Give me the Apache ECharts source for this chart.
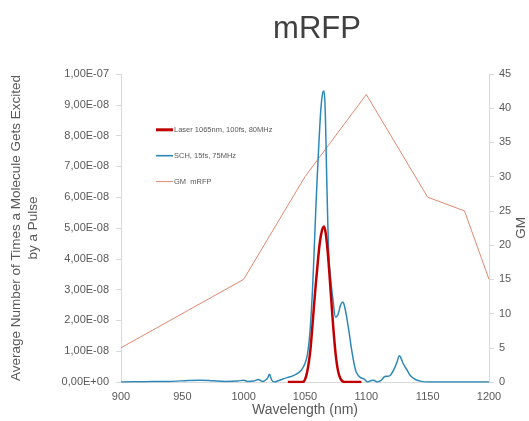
<!DOCTYPE html>
<html>
<head>
<meta charset="utf-8">
<script src="https://cdn.jsdelivr.net/npm/echarts@6/dist/echarts.min.js"></script>
<style>
html,body{margin:0;padding:0;background:#fff;}
#chart{width:529px;height:421px;}
</style>
</head>
<body>
<div id="chart"></div>
<script>
// Laser 1065nm, 100fs, 80MHz (values in units of 1e-8)
const laserWl = [1036, 1048, 1051, 1054, 1056, 1058, 1060, 1062, 1064, 1065.5, 1067, 1069, 1071, 1073, 1075, 1077, 1079, 1082, 1096];
const laserVal = [0, 0, 0.2, 0.9, 1.8, 2.8, 3.7, 4.5, 4.95, 5.05, 4.8, 4.0, 2.9, 1.8, 0.9, 0.35, 0.1, 0, 0];

// SCH, 15fs, 75MHz (values in units of 1e-8)
const schWl = [900, 920, 940, 955, 965, 975, 985, 995, 1000, 1003, 1008, 1012, 1015, 1019, 1021, 1023, 1025, 1028, 1032, 1036, 1040, 1044, 1047, 1050, 1052, 1054, 1056, 1057.5, 1059, 1061, 1063, 1064.5, 1065.5, 1066.5, 1067.5, 1068.5, 1069.5, 1071, 1073, 1075, 1077, 1079, 1080.7, 1082, 1084, 1086, 1088, 1090, 1092, 1095, 1098, 1101, 1104, 1106, 1109, 1112, 1115, 1119, 1121, 1123, 1125, 1127, 1128, 1130, 1133, 1136, 1140, 1145, 1150, 1200];
const schVal = [0, 0.01, 0.02, 0.05, 0.06, 0.04, 0.02, 0.03, 0.06, 0.02, 0.03, 0.08, 0.02, 0.1, 0.25, 0.05, 0, 0.04, 0.1, 0.15, 0.2, 0.28, 0.38, 0.6, 0.9, 1.6, 2.9, 4.3, 5.8, 7.5, 8.9, 9.4, 9.45, 8.8, 7.0, 5.3, 4.0, 3.3, 2.6, 2.1, 2.2, 2.5, 2.6, 2.5, 2.1, 1.6, 1.05, 0.6, 0.3, 0.15, 0.1, 0, 0.05, 0.06, 0, 0.05, 0.18, 0.2, 0.3, 0.45, 0.65, 0.85, 0.8, 0.6, 0.4, 0.2, 0.08, 0.02, 0, 0];

// GM mRFP (right axis)
const gmWl = [900, 1000, 1050, 1100, 1150, 1180, 1200];
const gmVal = [5, 15, 30, 42, 27, 25, 15];

const leftTicksScale = 1e-8;

function pairs(xs, ys, scale) {
  return xs.map((x, i) => [x, ys[i] * scale]);
}

function sciLabel(v) {
  if (v === 0) return '0,00E+00';
  let s = v.toExponential(2);
  let [m, e] = s.split('e');
  let sign = e[0] === '-' ? '-' : '+';
  let digits = e.replace(/[+-]/, '');
  if (digits.length < 2) digits = '0' + digits;
  return m.replace('.', ',') + 'E' + sign + digits;
}

const textColor = '#595959';
const axisColor = '#d9d9d9';
const fontFam = 'Liberation Sans, Arial, sans-serif';

const chart = echarts.init(document.getElementById('chart'), null, {renderer: 'canvas'});
chart.setOption({
  animation: false,
  backgroundColor: '#fff',
  title: {
    text: 'mRFP',
    left: 312,
    top: 9,
    textAlign: 'center',
    textStyle: {fontSize: 31, fontWeight: 'normal', color: '#404040', fontFamily: fontFam}
  },
  legend: {
    orient: 'vertical',
    left: 151,
    top: 120.8,
    itemGap: 17.9,
    itemWidth: 17,
    itemHeight: 3,
    textStyle: {fontSize: 7.5, color: textColor, fontFamily: fontFam, padding: [0, 0, 0, -4]},
    data: [
      {name: 'Laser 1065nm, 100fs, 80MHz', icon: 'path://M0,0H17V3H0Z'},
      {name: 'SCH, 15fs, 75MHz', icon: 'path://M0,0H17V1.6H0Z'},
      {name: 'GM  mRFP', icon: 'path://M0,0H17V1H0Z'}
    ]
  },
  grid: {left: 121, right: 40, top: 74, bottom: 39, containLabel: false, outerBoundsMode: 'none'},
  xAxis: {
    type: 'value',
    min: 900, max: 1200, interval: 50,
    name: 'Wavelength (nm)',
    nameLocation: 'middle',
    nameGap: 21,
    nameMoveOverlap: false,
    nameTextStyle: {fontSize: 14, color: textColor, fontFamily: fontFam},
    axisLine: {show: true, lineStyle: {color: axisColor}},
    axisTick: {show: false},
    splitLine: {show: false},
    axisLabel: {color: textColor, fontSize: 11, margin: 9, fontFamily: fontFam, formatter: v => String(v)}
  },
  yAxis: [{
    type: 'value',
    min: 0, max: 10 * leftTicksScale, interval: leftTicksScale,
    name: 'Average Number of Times a Molecule Gets Excited\nby a Pulse',
    nameLocation: 'middle',
    nameGap: 79,
    nameRotate: 90,
    nameMoveOverlap: false,
    nameTextStyle: {fontSize: 13.5, color: textColor, fontFamily: fontFam, lineHeight: 17},
    axisLine: {show: true, lineStyle: {color: axisColor}},
    axisTick: {show: true, length: 5, lineStyle: {color: axisColor}},
    splitLine: {show: false},
    axisLabel: {color: textColor, fontSize: 11, margin: 12, fontFamily: fontFam, formatter: sciLabel}
  }, {
    type: 'value',
    position: 'right',
    min: 0, max: 45, interval: 5,
    name: 'GM',
    nameLocation: 'middle',
    nameGap: 25,
    nameRotate: 90,
    nameMoveOverlap: false,
    nameTextStyle: {fontSize: 13.5, color: textColor, fontFamily: fontFam},
    axisLine: {show: true, lineStyle: {color: axisColor}},
    axisTick: {show: true, length: 5, lineStyle: {color: axisColor}},
    splitLine: {show: false},
    axisLabel: {color: textColor, fontSize: 11, margin: 10, fontFamily: fontFam}
  }],
  series: [{
    name: 'GM  mRFP',
    type: 'line',
    yAxisIndex: 1,
    data: pairs(gmWl, gmVal, 1),
    showSymbol: false, symbol: 'none',
    lineStyle: {color: '#e08a6e', width: 1},
    itemStyle: {color: '#e08a6e'},
    z: 1
  }, {
    name: 'SCH, 15fs, 75MHz',
    type: 'line',
    yAxisIndex: 0,
    data: pairs(schWl, schVal, leftTicksScale),
    showSymbol: false, symbol: 'none',
    smooth: 0.3,
    lineStyle: {color: '#2d88b8', width: 1.5},
    itemStyle: {color: '#2d88b8'},
    z: 2
  }, {
    name: 'Laser 1065nm, 100fs, 80MHz',
    type: 'line',
    yAxisIndex: 0,
    data: pairs(laserWl, laserVal, leftTicksScale),
    showSymbol: false, symbol: 'none',
    smooth: 0.3,
    lineStyle: {color: '#c00000', width: 2.5},
    itemStyle: {color: '#c00000'},
    z: 3
  }]
});
</script>
</body>
</html>
